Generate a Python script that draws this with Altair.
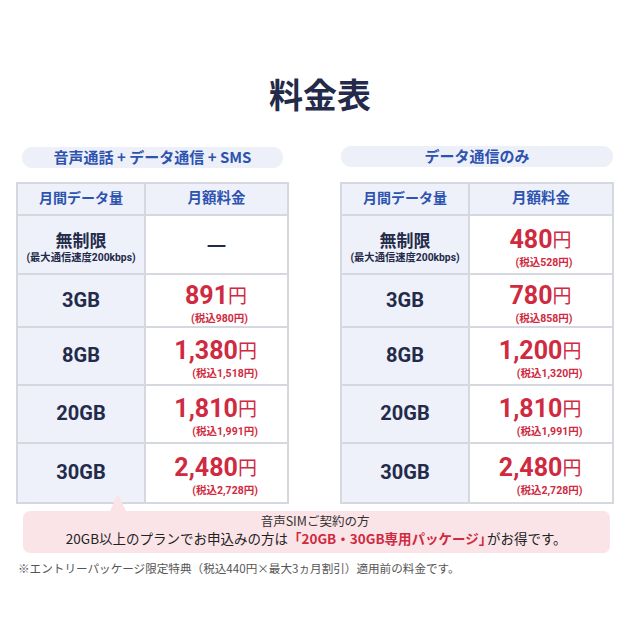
import altair as alt
import pandas as pd

# ---------------- data ----------------
title = "料金表"
plan_groups = ["音声通話 + データ通信 + SMS", "データ通信のみ"]
header_labels = ["月間データ量", "月額料金"]
plans = ["無制限", "3GB", "8GB", "20GB", "30GB"]
unlimited_note = "(最大通信速度200kbps)"
voice_price = [None, 891, 1380, 1810, 2480]
voice_tax = [None, 980, 1518, 1991, 2728]
data_price = [480, 780, 1200, 1810, 2480]
data_tax = [528, 858, 1320, 1991, 2728]
callout_line1 = "音声SIMご契約の方"
callout_parts = ["20GB以上のプランでお申込みの方は", "「20GB・30GB専用パッケージ」", "がお得です。"]
footnote = "※エントリーパッケージ限定特典（税込440円×最大3ヵ月割引）適用前の料金です。"

# ---------------- layout ----------------
NAVY = "#232a4a"
BLUE = "#2d53b0"
RED = "#cf2a40"
GRID = "#d5d8df"
LIGHT = "#eef1f9"
PINK = "#fbe4e7"
CJK = "Noto Sans CJK JP"
NUM = "Roboto, 'Noto Sans CJK JP'"

tables_x = [[17, 145, 288], [341, 469, 613]]
pills = [[22, 283, 147, 168], [341, 613, 146, 167]]
header_y = [183, 215]
row_y = [215, 274, 327, 385, 443, 503]

xs = alt.Scale(domain=[8, 632], range=[0, 624], nice=False, zero=False)
ys = alt.Scale(domain=[8, 632], range=[0, 624], nice=False, zero=False)


def est_width(s, fs):
    w = 0.0
    for ch in s:
        if ord(ch) > 0x2E80 or ch in "「」・。":
            w += 1.0
        elif ch.isdigit():
            w += 0.56
        elif ch == ",":
            w += 0.23
        elif ch.isupper():
            w += 0.66
        else:
            w += 0.5
    return w * fs


# rectangles
rects = []
for t, (xl, xm, xr) in enumerate(tables_x):
    rects.append(dict(x=xl, x2=xm, y=header_y[0], y2=header_y[1], fill=LIGHT))
    rects.append(dict(x=xm, x2=xr, y=header_y[0], y2=header_y[1], fill=LIGHT))
    for i in range(len(plans)):
        rects.append(dict(x=xl, x2=xm, y=row_y[i], y2=row_y[i + 1], fill=LIGHT))
        rects.append(dict(x=xm, x2=xr, y=row_y[i], y2=row_y[i + 1], fill="#ffffff"))
rect_df = pd.DataFrame(rects)

pill_df = pd.DataFrame([dict(x=p[0], x2=p[1], y=p[2], y2=p[3]) for p in pills])

texts = {}


def add(style, x, y, text, size, color):
    texts.setdefault(style, []).append(dict(x=x, y=y, text=text, size=size, color=color))


add(("center", "middle", CJK, "bold"), 320, 98, title, 34, NAVY)
for g, p in zip(plan_groups, pills):
    add(("center", "middle", CJK, "bold"), (p[0] + p[1]) / 2, (p[2] + p[3]) / 2 + 0.5, g, 15, BLUE)

for t, (xl, xm, xr) in enumerate(tables_x):
    hy = (header_y[0] + header_y[1]) / 2
    add(("center", "middle", CJK, "bold"), (xl + xm) / 2, hy, header_labels[0], 14, BLUE)
    add(("center", "middle", CJK, "bold"), (xm + xr) / 2, hy, header_labels[1], 14.5, BLUE)
    prices = voice_price if t == 0 else data_price
    taxes = voice_tax if t == 0 else data_tax
    for i, plan in enumerate(plans):
        rc = (row_y[i] + row_y[i + 1]) / 2
        lc = (xl + xm) / 2
        if i == 0:
            add(("center", "middle", CJK, "bold"), lc, rc - 3, plan, 17, NAVY)
            add(("center", "middle", NUM, "bold"), lc, rc + 13.5, unlimited_note, 10.3, NAVY)
        else:
            add(("center", "middle", NUM, "bold"), lc, rc, plan, 20, NAVY)
        pc = (xm + xr) / 2
        if prices[i] is None:
            add(("center", "middle", CJK, "bold"), pc, rc, "—", 22, NAVY)
        else:
            num = f"{prices[i]:,}"
            fs_num, fs_yen = 25, 19
            wn = est_width(num, fs_num)
            total = wn + fs_yen
            start = pc - total / 2
            add(("right", "alphabetic", NUM, "bold"), start + wn, rc + 3, num, fs_num, RED)
            add(("left", "alphabetic", CJK, "normal"), start + wn, rc + 2, "円", fs_yen, RED)
            add(("right", "middle", NUM, "bold"), start + total + 1, rc + 18, f"(税込{taxes[i]:,}円)", 10.5, RED)

add(("center", "middle", CJK, "normal"), 315, 522, callout_line1, 12.5, "#333333")
split1 = 288
add(("right", "middle", CJK, "normal"), split1, 540, callout_parts[0], 13.5, "#222222")
add(("left", "middle", CJK, "bold"), split1, 540, callout_parts[1], 13.5, RED)
add(("left", "middle", CJK, "normal"), split1 + est_width(callout_parts[1], 13.5) - 2, 540,
    callout_parts[2], 13.5, "#222222")
add(("left", "middle", CJK, "normal"), 18, 570, footnote, 11.6, "#555555")

X = lambda f="x": alt.X(f"{f}:Q", scale=xs, axis=None)
Y = lambda f="y": alt.Y(f"{f}:Q", scale=ys, axis=None)

layers = []
layers.append(
    alt.Chart(pill_df).mark_rect(cornerRadius=10, fill="#edf0f8").encode(
        x=X(), x2="x2:Q", y=Y(), y2="y2:Q")
)
layers.append(
    alt.Chart(rect_df).mark_rect(stroke=GRID, strokeWidth=2).encode(
        x=X(), x2="x2:Q", y=Y(), y2="y2:Q", fill=alt.Fill("fill:N", scale=None))
)
callout_df = pd.DataFrame([dict(x=23, x2=610, y=511, y2=553)])
layers.append(
    alt.Chart(callout_df).mark_rect(cornerRadius=7, fill=PINK).encode(
        x=X(), x2="x2:Q", y=Y(), y2="y2:Q")
)
tri_df = pd.DataFrame(dict(x=[109, 118, 127], y=[513, 494, 513], y2=[513, 513, 513]))
layers.append(
    alt.Chart(tri_df).mark_area(fill=PINK, opacity=1).encode(
        x=X(), y=Y(), y2="y2:Q")
)
for (align, baseline, font, weight), rows in texts.items():
    df = pd.DataFrame(rows)
    layers.append(
        alt.Chart(df).mark_text(align=align, baseline=baseline, font=font, fontWeight=weight).encode(
            x=X(), y=Y(), text="text:N",
            size=alt.Size("size:Q", scale=None),
            color=alt.Color("color:N", scale=None))
    )

chart = alt.layer(*layers).properties(
    width=624, height=624, padding=0,
    autosize=alt.AutoSizeParams(type="none"),
    background="white",
).configure_view(strokeWidth=0)

chart.save("out.html", embed_options={"renderer": "svg", "actions": False})
